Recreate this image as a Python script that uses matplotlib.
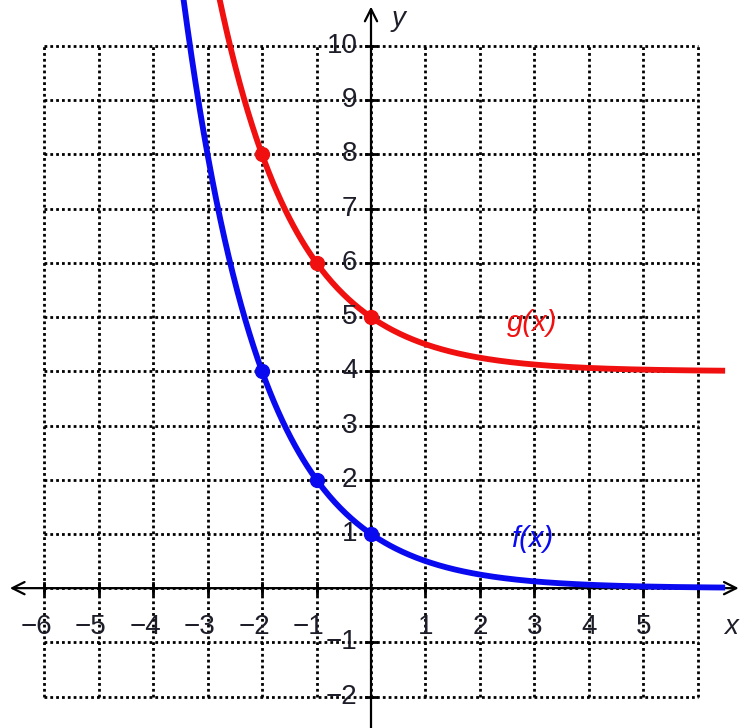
import numpy as np
import matplotlib.pyplot as plt

plt.rcParams['font.family'] = ['Liberation Sans', 'DejaVu Sans']

# curve parameters and highlighted points
base = 0.5
g_shift = 4
point_x = [-2, -1, 0]
f_points = [4, 2, 1]
g_points = [8, 6, 5]
x_ticks = [-6, -5, -4, -3, -2, -1, 1, 2, 3, 4, 5]
y_ticks = [-2, -1, 1, 2, 3, 4, 5, 6, 7, 8, 9, 10]

blue = '#0a0af0'
red = '#f01010'
ink = '#1e1e2a'

fig = plt.figure(figsize=(7.48, 7.28), dpi=100)
ax = fig.add_axes([0, 0, 1, 1])
ax.set_xlim(-6.81, 6.92)
ax.set_ylim(-2.58, 10.85)
ax.axis('off')

# dotted grid, only inside -6..6 / -2..10
dots = (0, (1, 1.1))
for gx in range(-6, 7):
    ax.plot([gx, gx], [-2, 10], color='black', lw=2.0, ls=dots, zorder=1)
for gy in range(-2, 11):
    ax.plot([-6, 6], [gy, gy], color='black', lw=2.0, ls=dots, zorder=1)

# axes with open arrow heads
ax.annotate('', xy=(6.8, 0), xytext=(-6.68, 0),
            arrowprops=dict(arrowstyle='<->', lw=1.6, color='black', mutation_scale=22))
ax.annotate('', xy=(0, 10.78), xytext=(0, -2.7),
            arrowprops=dict(arrowstyle='->', lw=1.6, color='black', mutation_scale=22))

# tick marks
for t in range(-6, 7):
    if t != 0:
        ax.plot([t, t], [-0.1, 0.1], color='black', lw=2.0, zorder=2)
for t in range(-2, 11):
    if t != 0:
        ax.plot([-0.1, 0.1], [t, t], color='black', lw=2.0, zorder=2)

# curves
xs = np.linspace(-3.6, 6.5, 400)
ax.plot(xs, base ** xs, color=blue, lw=4.2, zorder=3, solid_capstyle='butt')
ax.plot(xs, base ** xs + g_shift, color=red, lw=4.2, zorder=3, solid_capstyle='butt')
ax.plot(point_x, f_points, 'o', color=blue, ms=10, zorder=4)
ax.plot(point_x, g_points, 'o', color=red, ms=10, zorder=4)

# tick labels
fs = 20
for t in x_ticks:
    if t < 0:
        ax.text(t + 0.15, -0.72, '\u2212' + str(-t), ha='right', va='center',
                fontsize=fs, color=ink)
    else:
        ax.text(t, -0.72, str(t), ha='center', va='center', fontsize=fs, color=ink)
for t in y_ticks:
    lab = str(t) if t > 0 else '\u2212' + str(-t)
    ax.text(-0.25, t, lab, ha='right', va='center', fontsize=fs, color=ink)

ax.text(6.6, -0.72, 'x', ha='center', va='center', fontsize=fs, style='italic', color=ink)
ax.text(0.5, 10.5, 'y', ha='center', va='center', fontsize=fs, style='italic', color=ink)

ax.text(2.95, 4.9, 'g(x)', ha='center', va='center', fontsize=21, style='italic', color=red)
ax.text(2.95, 0.9, 'f(x)', ha='center', va='center', fontsize=21, style='italic', color=blue)

fig.savefig('out.png', dpi=100)
